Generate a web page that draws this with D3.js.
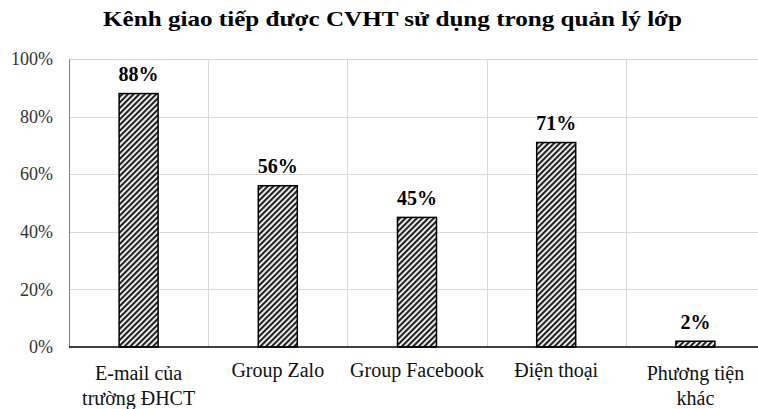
<!DOCTYPE html>
<html>
<head>
  <meta charset="utf-8">
  <title>Kênh giao tiếp được CVHT sử dụng trong quản lý lớp</title>
  <script src="https://d3js.org/d3.v7.min.js"></script>
  <style>
    body { margin: 0; background: #fff; }
    .grid line { stroke: #d9d9d9; stroke-width: 1; shape-rendering: crispEdges; }
  </style>
</head>
<body>
<div id="chart"></div>
<script>
  // chart data
  const categories = [
    ["E-mail của", "trường ĐHCT"],
    ["Group Zalo"],
    ["Group Facebook"],
    ["Điện thoại"],
    ["Phương tiện", "khác"]
  ];
  const values = [88, 56, 45, 71, 2];
  const yTicks = [0, 20, 40, 60, 80, 100];

  const W = 758, H = 409;
  const margin = {top: 59, left: 69, bottom: 62};
  const plotRight = 765; // plot area runs a bit past the picture edge
  const serif = "Liberation Serif";

  const svg = d3.select("#chart").append("svg")
    .attr("width", W)
    .attr("height", H)
    .style("display", "block");

  // stripe pattern for the bars
  const defs = svg.append("defs");
  const pat = defs.append("pattern")
    .attr("id", "stripes")
    .attr("patternUnits", "userSpaceOnUse")
    .attr("width", 4)
    .attr("height", 4)
    .attr("patternTransform", "rotate(45)");
  pat.append("rect").attr("width", 4).attr("height", 4).attr("fill", "#fff");
  pat.append("rect").attr("width", 2.2).attr("height", 4).attr("fill", "#222");

  const x = d3.scaleBand()
    .domain(d3.range(categories.length))
    .range([margin.left, plotRight]);

  const y = d3.scaleLinear()
    .domain([0, 100])
    .range([H - margin.bottom, margin.top]);

  // horizontal grid
  svg.append("g")
    .attr("class", "grid")
    .selectAll("line")
    .data(yTicks.filter(d => d > 0))
    .join("line")
    .attr("x1", margin.left).attr("x2", W)
    .attr("y1", d => Math.round(y(d)) + 0.5)
    .attr("y2", d => Math.round(y(d)) + 0.5);

  // vertical grid between categories
  svg.append("g")
    .attr("class", "grid")
    .selectAll("line")
    .data(d3.range(1, categories.length))
    .join("line")
    .attr("x1", d => Math.round(x(d)) + 0.5)
    .attr("x2", d => Math.round(x(d)) + 0.5)
    .attr("y1", y(100))
    .attr("y2", y(0));

  // left axis line
  svg.append("line")
    .attr("x1", margin.left + 0.5).attr("x2", margin.left + 0.5)
    .attr("y1", y(100)).attr("y2", y(0))
    .attr("stroke", "#7f7f7f")
    .attr("stroke-width", 1);

  // y axis labels
  svg.append("g")
    .attr("transform", `translate(${margin.left},0)`)
    .call(d3.axisLeft(y).tickValues(yTicks).tickFormat(d => d + "%").tickSize(0).tickPadding(16))
    .call(g => g.select(".domain").remove())
    .call(g => g.selectAll("text")
      .attr("font-family", serif)
      .attr("font-size", 18)
      .attr("fill", "#333"));

  // bars
  const barW = 39;
  svg.selectAll(".bar")
    .data(values)
    .join("rect")
    .attr("class", "bar")
    .attr("x", (d, i) => x(i) + x.bandwidth() / 2 - barW / 2)
    .attr("y", d => y(d))
    .attr("width", barW)
    .attr("height", d => y(0) - y(d))
    .attr("fill", "url(#stripes)")
    .attr("stroke", "#000")
    .attr("stroke-width", 1.5);

  // baseline
  svg.append("line")
    .attr("x1", margin.left).attr("x2", W)
    .attr("y1", y(0)).attr("y2", y(0))
    .attr("stroke", "#000")
    .attr("stroke-width", 1.5);

  // value labels
  svg.selectAll(".value-label")
    .data(values)
    .join("text")
    .attr("class", "value-label")
    .attr("x", (d, i) => x(i) + x.bandwidth() / 2)
    .attr("y", d => y(d) - 12.5)
    .attr("text-anchor", "middle")
    .attr("font-family", serif)
    .attr("font-size", 20)
    .attr("font-weight", "bold")
    .text(d => d + "%");

  // category labels
  const xl = svg.selectAll(".x-label")
    .data(categories)
    .join("text")
    .attr("class", "x-label")
    .attr("text-anchor", "middle")
    .attr("font-family", serif)
    .attr("font-size", 20)
    .attr("fill", "#111")
    .attr("transform", (d, i) => `translate(${x(i) + x.bandwidth() / 2},${y(0) + (d.length > 1 ? 33 : 30)})`);
  xl.selectAll("tspan")
    .data(d => d)
    .join("tspan")
    .attr("x", 0)
    .attr("dy", (d, i) => i === 0 ? 0 : 25)
    .text(d => d);

  // title
  svg.append("text")
    .attr("x", 103)
    .attr("y", 26)
    .attr("text-anchor", "start")
    .attr("font-family", serif)
    .attr("font-size", 21)
    .attr("font-weight", "bold")
    .attr("textLength", 579)
    .attr("lengthAdjust", "spacingAndGlyphs")
    .text("Kênh giao tiếp được CVHT sử dụng trong quản lý lớp");
</script>
</body>
</html>
